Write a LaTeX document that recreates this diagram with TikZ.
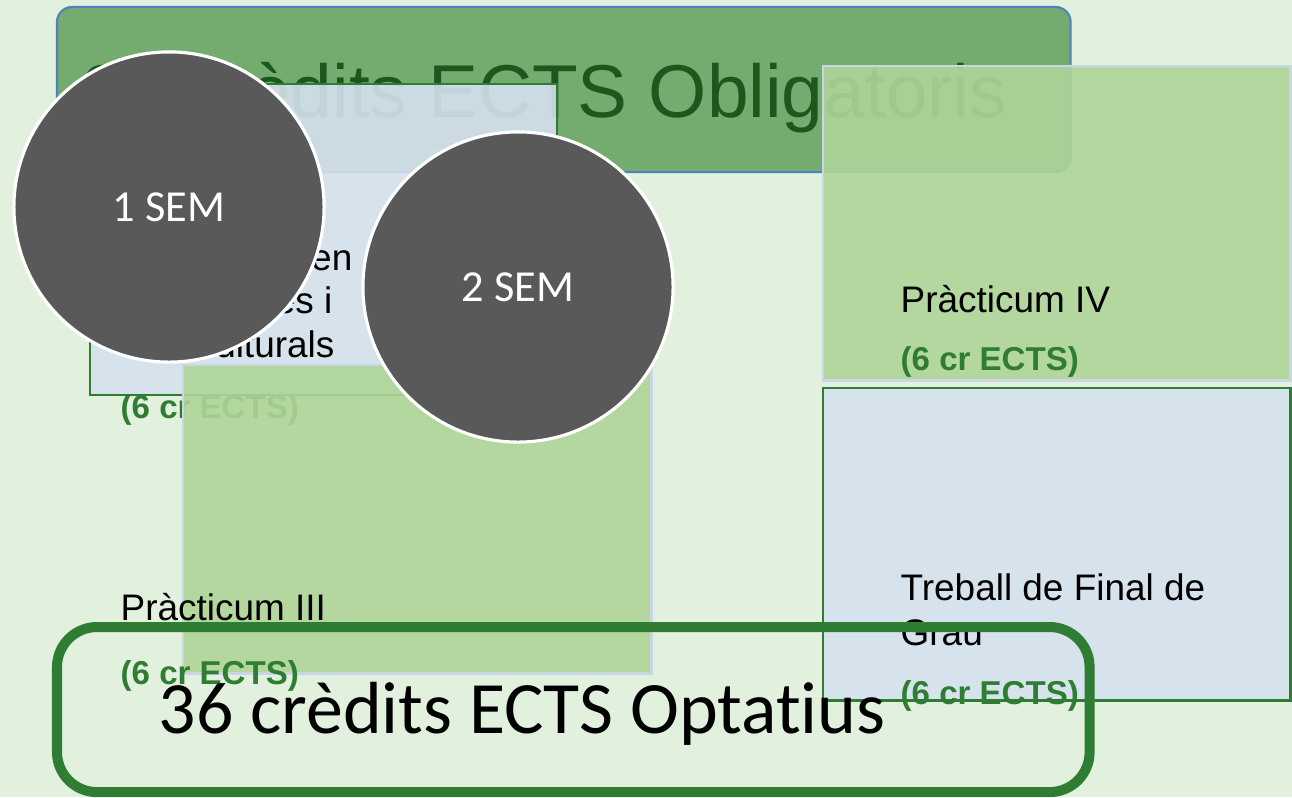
\documentclass[tikz,border=0pt]{standalone}
\usepackage{fontspec}
\setmainfont{Liberation Sans}
\newfontfamily\calibri[Ligatures=NoCommon]{Carlito}
\definecolor{fons}{RGB}{226,240,222}
\definecolor{verdtitol}{RGB}{116,172,112}
\definecolor{verdfosc}{RGB}{46,125,50}
\definecolor{verdtext}{RGB}{28,88,30}
\definecolor{verdclar}{RGB}{174,213,152}
\definecolor{blaucel}{RGB}{213,225,238}
\definecolor{vorablava}{RGB}{79,129,189}
\definecolor{voraclara}{RGB}{200,214,230}
\definecolor{grisfosc}{RGB}{89,89,89}
\newcommand{\midatext}{\fontsize{10.5}{12.5}\selectfont}
\begin{document}
\begin{tikzpicture}[x=0.01cm,y=-0.01cm]
    \tikzset{caixa/.style={inner sep=0pt, outer sep=0pt, anchor=north west}}
    \tikzset{blava/.style={caixa, fill=blaucel, fill opacity=0.9, draw=verdfosc, line width=0.6pt}}
    \tikzset{verda/.style={caixa, fill=verdclar, fill opacity=0.9, draw=voraclara, line width=0.8pt}}
    \tikzset{sem/.style={circle, fill=grisfosc, draw=white, line width=0.9pt, minimum size=3.1cm, inner sep=0pt, text=white, font=\calibri\fontsize{12.6}{14}\selectfont}}
    \tikzset{lletra/.style={anchor=base west, inner sep=0pt, font=\midatext}}
    \tikzset{credits/.style={lletra, text=verdfosc, font=\bfseries\fontsize{9.4}{11}\selectfont}}
    \useasboundingbox (0,0) rectangle (1292,797);
    \fill[fons] (0,0) rectangle (1292,797);
    % caixa del titol
    \node[caixa, fill=verdtitol, draw=vorablava, line width=0.6pt, rounded corners=0.15cm,
          minimum width=10.13cm, minimum height=1.65cm] (oblig) at (57,7) {};
    \node[lletra, text=verdtext, font=\fontsize{21.3}{25}\selectfont] (obligtxt) at (82,117) {36 crèdits ECTS Obligatoris};
    % primer semestre
    \node[blava, minimum width=4.67cm, minimum height=3.11cm] (caixa1) at (90,84) {};
    \node[lletra, anchor=base east] (t1a) at (353,270) {en};
    \node[lletra, anchor=base east] (t1b) at (333,313) {es i};
    \node[lletra, anchor=base east] (t1c) at (335,357) {ulturals};
    \node[credits] (c1) at (120,418) {(6 cr ECTS)};
    \node[verda, minimum width=4.68cm, minimum height=3.08cm] (caixa2) at (183,365) {};
    \node[lletra] (t2) at (120,620) {Pràcticum III};
    \node[credits] (c2) at (120,684) {(6 cr ECTS)};
    % segon semestre
    \node[verda, minimum width=4.67cm, minimum height=3.14cm] (caixa4) at (823,66) {};
    \node[lletra] (t4) at (900,312) {Pràcticum IV};
    \node[credits] (c4) at (900,370) {(6 cr ECTS)};
    \node[blava, minimum width=4.67cm, minimum height=3.12cm, line width=0.8pt] (caixa5) at (823,388) {};
    \node[lletra] (t5a) at (900,600) {Treball de Final de};
    \node[lletra] (t5b) at (900,645) {Grau};
    \node[credits] (c5) at (900,704) {(6 cr ECTS)};
    % semestres
    \node[sem] (sem1) at (169,207) {1 SEM};
    \node[sem] (sem2) at (518,287) {2 SEM};
    % optatius
    \node[caixa, draw=verdfosc, line width=2.85pt, rounded corners=0.4cm,
          minimum width=10.32cm, minimum height=1.65cm] (optat) at (57,627) {};
    \node[lletra, font=\calibri\fontsize{21}{24}\selectfont] (optattxt) at (158,733) {36 crèdits ECTS Optatius};
\end{tikzpicture}
\end{document}
